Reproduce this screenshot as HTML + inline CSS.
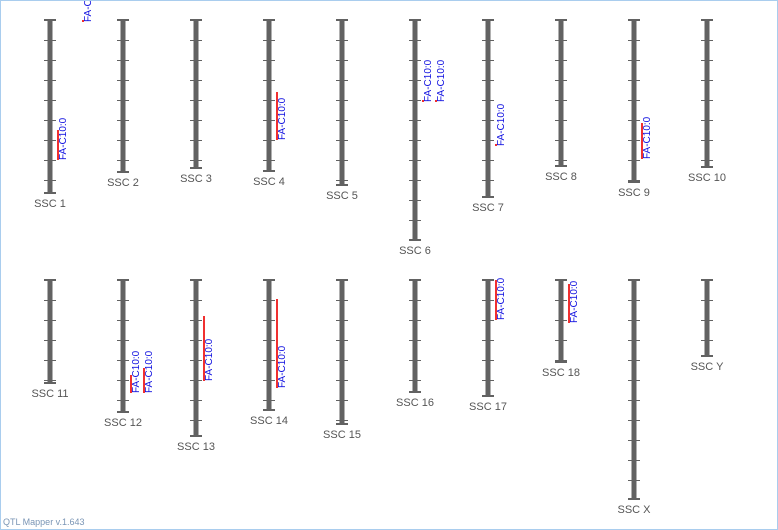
<!DOCTYPE html>
<html><head><meta charset="utf-8"><style>
html,body{margin:0;padding:0;background:#fff}
#wrap{position:relative;width:776px;height:528px;border:1px solid #a9cdee;overflow:hidden}
svg{position:absolute;left:0;top:0}
</style></head><body>
<div id="wrap">
<svg id="chart" width="776" height="528"></svg>
<div style="position:absolute;left:2px;top:516px;font:9px 'Liberation Sans',sans-serif;color:#7a95b5">QTL Mapper v.1.643</div>
</div>
<script>
const chromNames=["SSC 1","SSC 2","SSC 3","SSC 4","SSC 5","SSC 6","SSC 7","SSC 8","SSC 9","SSC 10","SSC 11","SSC 12","SSC 13","SSC 14","SSC 15","SSC 16","SSC 17","SSC 18","SSC X","SSC Y"];
const chromLengths=[173,152,148,151,165,220,177,146,162,147,103,132,156,130,144,112,116,82,219,76];
const qtlChrom=[0,0,3,5,5,6,8,11,11,12,13,16,17];
const qtlStart=[0,110,72,80,80,124,103,95,88,36,19,0,4];
const qtlEnd=[0,140,120,81,81,124,139,113,113,101,108,40,43];
const qtlLane=[1,0,0,0,1,0,0,0,1,0,0,0,0];
const qtlLabel="FA-C10:0";
const ns="http://www.w3.org/2000/svg";
const svg=document.getElementById('chart');
function colX(i){return 49+(i%10)*73;}
function rowTop(i){return i<10?19:279;}
function yPos(i,v){return rowTop(i)+v;}
function mk(t,a){const e=document.createElementNS(ns,t);for(const k in a)e.setAttribute(k,a[k]);svg.appendChild(e);return e;}
chromNames.forEach((n,i)=>{
  const x=colX(i),y0=yPos(i,0),y1=yPos(i,chromLengths[i]);
  const g=document.createElementNS(ns,'g');
  
  
  svg.appendChild(g);
  const add=(t,a)=>{const e=document.createElementNS(ns,t);for(const k in a)e.setAttribute(k,a[k]);g.appendChild(e);return e;};
  add('rect',{x:x-2.5,y:y0,width:5,height:y1-y0,fill:'#626262'});
  for(let v=0;v<=chromLengths[i];v+=20){
    add('line',{x1:x-6,x2:x+6,y1:yPos(i,v)+0.5,y2:yPos(i,v)+0.5,stroke:'#626262','stroke-width':1});
  }
  add('rect',{x:x-6,y:y0-1,width:12,height:2,fill:'#626262'});
  add('rect',{x:x-6,y:y1-1,width:12,height:2,fill:'#626262'});
  const t=add('text',{x:x,y:y1+14,'text-anchor':'middle','font-family':'Liberation Sans, sans-serif','font-size':'11',fill:'#555'});
  t.textContent=n;
});
qtlChrom.forEach((c,k)=>{
  const x=colX(c)+8+qtlLane[k]*13+(c===0&&k===0?12:0);
  const ya=yPos(c,qtlStart[k]),yb=yPos(c,qtlEnd[k]);
  const r=mk('rect',{x:x-1,y:ya,width:2,height:Math.max(2,yb-ya),fill:'#f03030'});
  
  
  const tx=x+8,ty=Math.max(yb,ya+2);
  const t=mk('text',{x:tx,y:ty,transform:'rotate(-90 '+tx+' '+ty+')','font-family':'Liberation Sans, sans-serif','font-size':'10',fill:'#1010e0'});
  
  
  t.textContent=qtlLabel;
});
</script>
</body></html>
